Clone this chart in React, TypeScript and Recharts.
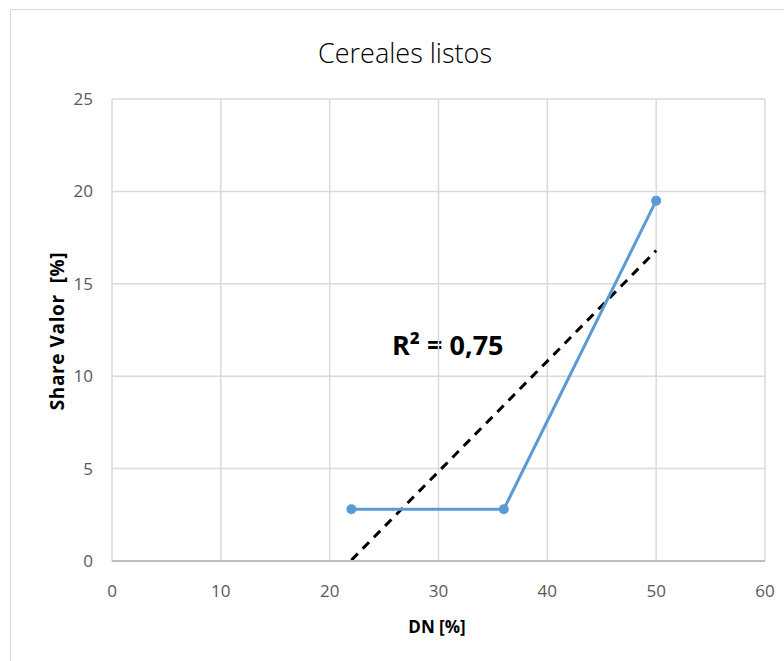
import React from "react";
import {
  ComposedChart,
  Line,
  XAxis,
  YAxis,
  CartesianGrid,
} from "recharts";

// Calibri is not available, a narrow sans gets closest
const FONT = "'Liberation Sans Narrow', 'Open Sans', sans-serif";
const BLUE = "#5B9BD5";
const GRID = "#d9d9d9";
const TICK = "#595959";

const dnValues = [22, 36, 50];
const shareValues = [2.8, 2.8, 19.5];
const trendDn = [22, 50];
const trendShare = [0.05, 16.8];
const xTicks = [0, 10, 20, 30, 40, 50, 60];
const yTicks = [0, 5, 10, 15, 20, 25];

const series = dnValues.map((dn, i) => ({ dn, share: shareValues[i] }));
const trend = trendDn.map((dn, i) => ({ dn, fit: trendShare[i] }));

export default function App() {
  return (
    <div
      style={{
        position: "absolute",
        left: 0,
        top: 0,
        width: 784,
        height: 661,
        background: "#fff",
        fontFamily: FONT,
      }}
    >
      <div
        style={{
          position: "absolute",
          left: 10,
          top: 9,
          width: 790,
          height: 670,
          border: "1px solid #d9d9d9",
        }}
      />
      <div
        style={{
          position: "absolute",
          left: 0,
          width: 810,
          top: 34,
          textAlign: "center",
          fontSize: 27,
          color: "#000",
          fontWeight: 300,
        }}
      >
        Cereales listos
      </div>
      <div
        style={{
          position: "absolute",
          left: 392,
          top: 326,
          fontSize: 27,
          fontWeight: 700,
          color: "#000",
        }}
      >
        R² = 0,75
      </div>
      <div
        style={{
          position: "absolute",
          left: 0,
          width: 874,
          top: 615,
          textAlign: "center",
          fontSize: 17,
          fontWeight: 700,
        }}
      >
        DN [%]
      </div>
      <div
        style={{
          position: "absolute",
          left: 57,
          top: 331,
          transform: "translate(-50%, -50%) rotate(-90deg)",
          whiteSpace: "pre",
          fontSize: 19,
          letterSpacing: 0.6,
          fontWeight: 700,
        }}
      >
        {"Share Valor  [%]"}
      </div>
      <div style={{ position: "absolute", left: 0, top: 0 }}>
        <ComposedChart
          width={784}
          height={661}
          margin={{ top: 99, right: 19, bottom: 70, left: 52 }}
        >
          <CartesianGrid stroke={GRID} strokeWidth={1.5} />
          <XAxis
            dataKey="dn"
            type="number"
            domain={[0, 60]}
            ticks={xTicks}
            height={30}
            axisLine={{ stroke: "#bfbfbf", strokeWidth: 2 }}
            tickLine={false}
            tickSize={0}
            tickMargin={24}
            tick={{ fill: TICK, fontSize: 17, fontFamily: FONT }}
            allowDuplicatedCategory={false}
          />
          <YAxis
            type="number"
            domain={[0, 25]}
            ticks={yTicks}
            width={60}
            axisLine={false}
            tickLine={false}
            tickSize={0}
            tickMargin={19}
            tick={{ fill: TICK, fontSize: 17, fontFamily: FONT }}
          />
          <Line
            data={trend}
            dataKey="fit"
            type="linear"
            stroke="#000"
            strokeWidth={3}
            strokeDasharray="9 7"
            dot={false}
            activeDot={false}
            isAnimationActive={false}
          />
          <Line
            data={series}
            dataKey="share"
            type="linear"
            stroke={BLUE}
            strokeWidth={3}
            dot={{ r: 5, fill: BLUE, stroke: BLUE, strokeWidth: 0 }}
            activeDot={false}
            isAnimationActive={false}
          />
        </ComposedChart>
      </div>
    </div>
  );
}
